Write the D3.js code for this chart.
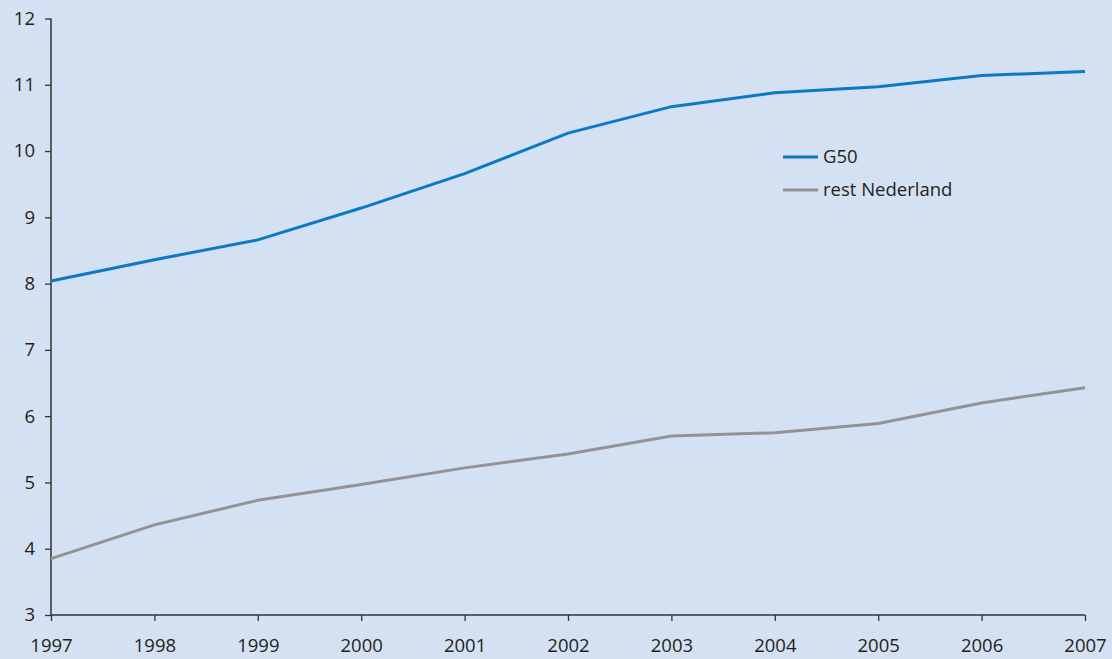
<!DOCTYPE html>
<html><head><meta charset="utf-8">
<script src="https://cdn.jsdelivr.net/npm/d3@7"></script>
<style>
html,body{margin:0;padding:0;background:#d4e1f2;}
svg{display:block;}
text{font-family:"Open Sans","Noto Sans",sans-serif;fill:#231f20;}
</style></head><body>
<svg id="c" width="1112" height="659"></svg>
<script>
const years = [1997,1998,1999,2000,2001,2002,2003,2004,2005,2006,2007];
const g50 = [8.04,8.36,8.66,9.14,9.66,10.27,10.67,10.88,10.97,11.14,11.20];
const restNL = [3.85,4.36,4.73,4.97,5.22,5.43,5.70,5.75,5.89,6.20,6.43];
const yTicks = [3,4,5,6,7,8,9,10,11,12];
const seriesNames = ["G50","rest Nederland"];
const seriesColors = ["#0a79c6","#939393"];

const svg = d3.select("#c");
svg.append("rect").attr("width",1112).attr("height",659).attr("fill","#d4e1f2");

const x = d3.scaleLinear().domain([1997,2007]).range([51,1085]);
const y = d3.scaleLinear().domain([3,12]).range([615,18.5]);

const yAxis = svg.append("g").attr("transform","translate(51,0)")
  .call(d3.axisLeft(y).tickValues(yTicks).tickSize(6).tickPadding(10).tickFormat(d3.format("d")));
const xAxis = svg.append("g").attr("transform","translate(0,615)")
  .call(d3.axisBottom(x).tickValues(years).tickSize(6).tickPadding(18).tickFormat(d3.format("d")));
[yAxis,xAxis].forEach(a=>{
  a.select(".domain").attr("stroke","#333").attr("stroke-width",1.5);
  a.selectAll(".tick line").attr("stroke","#333").attr("stroke-width",1.3);
  a.selectAll(".tick text").style("font-size","18.5px").attr("fill","#231f20");
});
xAxis.select(".domain").attr("d","M51,0H1085");
yAxis.select(".domain").attr("d","M0,18.5V615");

const line = d3.line().x((d,i)=>x(years[i])).y(d=>y(d));
[g50,restNL].forEach((s,k)=>{
  svg.append("path").datum(s).attr("d",line).attr("fill","none")
    .attr("stroke",seriesColors[k]).attr("stroke-width",3);
});

const leg = svg.append("g");
seriesNames.forEach((n,k)=>{
  const yy = 157 + k*33;
  leg.append("line").attr("x1",783).attr("x2",818).attr("y1",yy).attr("y2",yy)
    .attr("stroke",seriesColors[k]).attr("stroke-width",3);
  leg.append("text").attr("x",823).attr("y",yy).attr("dy","0.35em")
    .style("font-size","18.5px").text(n);
});
</script>
</body></html>
